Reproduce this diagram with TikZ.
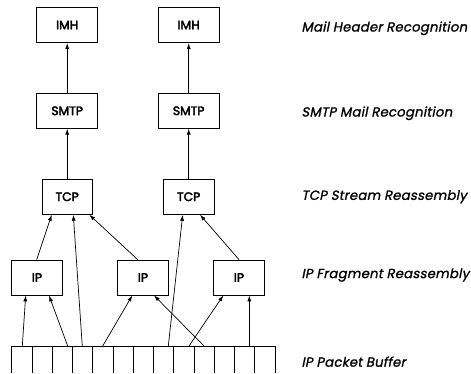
\documentclass[tikz,border=0pt]{standalone}
\usepackage{fontspec}
\setmainfont{Poppins}
\newfontfamily\boxfont[FakeBold=3]{Poppins}
\newfontfamily\layerfont[FakeBold=1.2,FakeSlant=0.2,LetterSpace=2]{Poppins}
\usetikzlibrary{arrows.meta}
\begin{document}
\begin{tikzpicture}[x=1pt,y=-1pt,
  box/.style={draw,line width=0.8pt,minimum width=#1,inner sep=0pt,font=\boxfont\fontsize{12.3}{13}\selectfont},
  box/.default=51pt,
  layer/.style={anchor=west,font=\layerfont\fontsize{13.2}{14}\selectfont},
  conn/.style={line width=0.7pt,-{Latex[length=6pt,width=4pt]}},
  plain/.style={line width=0.7pt}]
\useasboundingbox (0,0) rectangle (471,373);

% application layer boxes
\node[box=61pt,minimum height=35.4pt] (imh1) at (67.2,25) {IMH};
\node[box=61pt,minimum height=35.4pt] (imh2) at (188.7,25) {IMH};
\node[box=61pt,minimum height=35pt] (smtp1) at (67.2,110.8) {SMTP};
\node[box=61pt,minimum height=35pt] (smtp2) at (188.7,110.8) {SMTP};
% transport layer boxes
\node[box=50.3pt,minimum height=35.3pt] (tcp1) at (67.2,196.7) {TCP};
\node[box=50.6pt,minimum height=35.3pt] (tcp2) at (188.7,196.7) {TCP};
% network layer boxes
\node[box=50.6pt,minimum height=35pt] (ip1) at (37,277.5) {IP};
\node[box=50.6pt,minimum height=35pt] (ip2) at (143,277.5) {IP};
\node[box=50.6pt,minimum height=35pt] (ip3) at (239,277.5) {IP};

% packet buffer: 13 cells, open at the bottom
\coordinate (bufL) at (11.7,346);
\coordinate (bufR) at (275,346);
\draw[plain] (bufL) -- (bufR);
\foreach \i in {0,...,13}{
  \draw[plain] ({11.7+\i*20.25},346) -- ({11.7+\i*20.25},373);
}
\foreach \n/\x in {b1/22.3,b2/67.7,b3/82.3,b4/102.7,b5/168.3,b6/189,b7/204,b8/249.3}{
  \coordinate (\n) at (\x,346);
}

% buffer to IP
\draw[conn] (b1) -- (ip1.south -| 25.7,0);
\draw[conn] (b2) -- (ip1.south -| 49,0);
\draw[conn] (b4) -- (ip2.south -| 132.3,0);
\draw[conn] (b7) -- (ip2.south -| 154,0);
\draw[conn] (b6) -- (ip3.south -| 223.3,0);
\draw[conn] (b8) -- (ip3.south -| 249.3,0);

% IP and buffer to TCP
\draw[conn] (ip1.north -| 36.7,0) -- (tcp1.south -| 51.7,0);
\draw[conn] (b3) -- (tcp1.south -| 73.3,0);
\draw[conn] (ip2.north -| 137.7,0) -- (tcp1.south -| 89.3,0);
\draw[conn] (b5) -- (tcp2.south -| 182.7,0);
\draw[conn] (ip3.north -| 239,0) -- (tcp2.south -| 200,0);

% TCP to SMTP to IMH
\draw[conn] (tcp1) -- (smtp1);
\draw[conn] (tcp2) -- (smtp2);
\draw[conn] (smtp1) -- (imh1);
\draw[conn] (smtp2) -- (imh2);

% layer names
\node[layer] (l1) at (298,28.3) {Mail Header Recognition};
\node[layer] (l2) at (298,113.3) {SMTP Mail Recognition};
\node[layer] (l3) at (298,196.7) {TCP Stream Reassembly};
\node[layer] (l4) at (298,275) {IP Fragment Reassembly};
\node[layer] (l5) at (298,361.7) {IP Packet Buffer};
\end{tikzpicture}
\end{document}
